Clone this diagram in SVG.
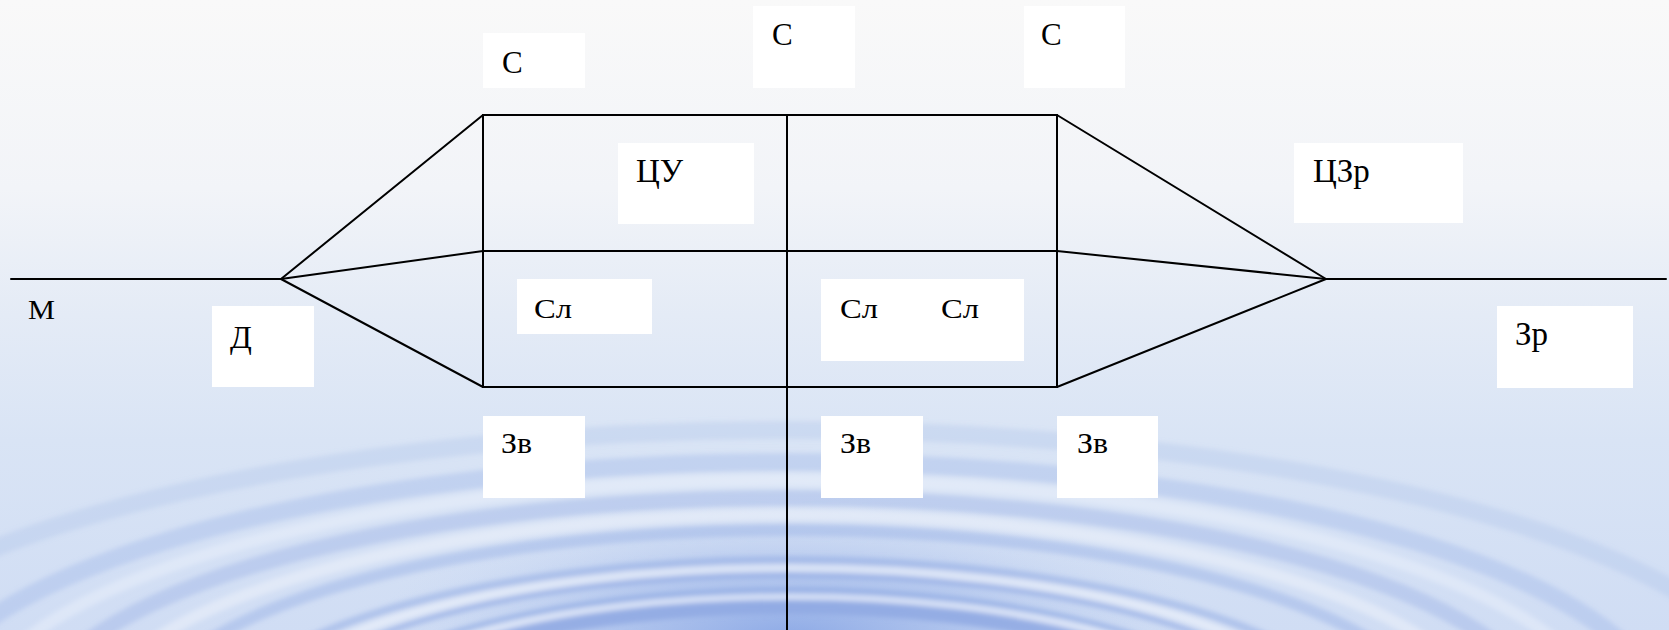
<svg xmlns="http://www.w3.org/2000/svg" width="1669" height="630" viewBox="0 0 1669 630">
<defs>
<linearGradient id="bg" x1="0" y1="0" x2="0" y2="1">
<stop offset="0" stop-color="#f9f9f9"/>
<stop offset="0.3" stop-color="#f2f4f8"/>
<stop offset="0.5" stop-color="#e4ebf6"/>
<stop offset="0.7" stop-color="#d9e4f5"/>
<stop offset="1" stop-color="#d0ddf4"/>
</linearGradient>
<radialGradient id="glow" cx="790" cy="640" r="420" gradientUnits="userSpaceOnUse" gradientTransform="translate(790 640) scale(1 0.35) translate(-790 -640)">
<stop offset="0" stop-color="#5f86dc" stop-opacity="0.6"/>
<stop offset="0.5" stop-color="#8eaae6" stop-opacity="0.4"/>
<stop offset="1" stop-color="#c8d6f2" stop-opacity="0"/>
</radialGradient>
<filter id="blur" x="-10%" y="-50%" width="120%" height="200%"><feGaussianBlur stdDeviation="2.5"/></filter>
<style>
.ln{stroke:#000;stroke-width:2;fill:none;stroke-linecap:round}
.bx{fill:#fff}
.ring{fill:none;stroke:#8fa9e3}
.hl{fill:none;stroke:#f0f4fc}
</style>
</defs>
<rect width="1669" height="630" fill="url(#bg)"/>
<rect width="1669" height="630" fill="url(#glow)"/>
<g filter="url(#blur)">
<ellipse class="ring" cx="790" cy="730" rx="430" ry="125" stroke-width="18" stroke="#5a83dc" stroke-opacity="0.85"/>
<ellipse class="ring" cx="790" cy="730" rx="470" ry="140" stroke-width="5" stroke-opacity="0.7"/>
<ellipse class="ring" cx="790" cy="730" rx="520" ry="155" stroke-width="6" stroke-opacity="0.6"/>
<ellipse class="ring" cx="790" cy="730" rx="570" ry="170" stroke-width="8" stroke-opacity="0.5"/>
<ellipse class="ring" cx="790" cy="730" rx="650" ry="200" stroke-width="12" stroke-opacity="0.4"/>
<ellipse class="ring" cx="790" cy="730" rx="760" ry="232" stroke-width="16" stroke-opacity="0.35"/>
<ellipse class="ring" cx="790" cy="730" rx="880" ry="268" stroke-width="18" stroke-opacity="0.3"/>
<ellipse class="ring" cx="790" cy="730" rx="1000" ry="300" stroke-width="18" stroke-opacity="0.2"/>
<ellipse class="hl" cx="790" cy="730" rx="450" ry="133" stroke-width="6" stroke-opacity="0.7"/>
<ellipse class="hl" cx="790" cy="730" rx="545" ry="162" stroke-width="8" stroke-opacity="0.6"/>
<ellipse class="hl" cx="790" cy="730" rx="700" ry="215" stroke-width="12" stroke-opacity="0.5"/>
<ellipse class="hl" cx="790" cy="730" rx="820" ry="250" stroke-width="12" stroke-opacity="0.4"/>
</g>
<g id="connectors">
<line class="ln" x1="11" y1="279" x2="281" y2="279"/>
<line class="ln" x1="281" y1="279" x2="483" y2="115"/>
<line class="ln" x1="281" y1="279" x2="483" y2="251"/>
<line class="ln" x1="281" y1="279" x2="483" y2="387"/>
<line class="ln" x1="483" y1="115" x2="1057" y2="115"/>
<line class="ln" x1="483" y1="251" x2="1057" y2="251"/>
<line class="ln" x1="483" y1="387" x2="1057" y2="387"/>
<line class="ln" x1="483" y1="115" x2="483" y2="387"/>
<line class="ln" x1="1057" y1="115" x2="1057" y2="387"/>
<line class="ln" x1="787" y1="115" x2="787" y2="632"/>
<line class="ln" x1="1057" y1="115" x2="1326" y2="279"/>
<line class="ln" x1="1057" y1="251" x2="1326" y2="279"/>
<line class="ln" x1="1057" y1="387" x2="1326" y2="279"/>
<line class="ln" x1="1326" y1="279" x2="1666" y2="279"/>
</g>
<g font-family="'Liberation Serif', 'Times New Roman', 'DejaVu Serif', serif" fill="#000">
<g id="node-m"><text x="28" y="319" font-size="28" textLength="27" lengthAdjust="spacingAndGlyphs">М</text></g>
<g id="node-c1"><rect class="bx" x="483" y="33" width="102" height="55"/><text x="502" y="73" font-size="31">С</text></g>
<g id="node-c2"><rect class="bx" x="753" y="6" width="102" height="82"/><text x="772" y="45" font-size="31">С</text></g>
<g id="node-c3"><rect class="bx" x="1024" y="6" width="101" height="82"/><text x="1041" y="45" font-size="31">С</text></g>
<g id="node-cu"><rect class="bx" x="618" y="143" width="136" height="81"/><text x="636" y="182" font-size="33">ЦУ</text></g>
<g id="node-czr"><rect class="bx" x="1294" y="143" width="169" height="80"/><text x="1313" y="182" font-size="33">ЦЗр</text></g>
<g id="node-sl1"><rect class="bx" x="517" y="279" width="135" height="55"/><text x="534" y="318" font-size="28" textLength="38" lengthAdjust="spacingAndGlyphs">Сл</text></g>
<g id="node-sl2"><rect class="bx" x="821" y="279" width="203" height="82"/><text x="840" y="318" font-size="28" textLength="38" lengthAdjust="spacingAndGlyphs">Сл</text><text x="941" y="318" font-size="28" textLength="38" lengthAdjust="spacingAndGlyphs">Сл</text></g>
<g id="node-d"><rect class="bx" x="212" y="306" width="102" height="81"/><text x="230" y="348" font-size="32">Д</text></g>
<g id="node-zr"><rect class="bx" x="1497" y="306" width="136" height="82"/><text x="1515" y="345" font-size="33">Зр</text></g>
<g id="node-zv1"><rect class="bx" x="483" y="416" width="102" height="82"/><text x="501" y="453" font-size="30" textLength="31" lengthAdjust="spacingAndGlyphs">Зв</text></g>
<g id="node-zv2"><rect class="bx" x="821" y="416" width="102" height="82"/><text x="840" y="453" font-size="30" textLength="31" lengthAdjust="spacingAndGlyphs">Зв</text></g>
<g id="node-zv3"><rect class="bx" x="1057" y="416" width="101" height="82"/><text x="1077" y="453" font-size="30" textLength="31" lengthAdjust="spacingAndGlyphs">Зв</text></g>
</g>
</svg>
